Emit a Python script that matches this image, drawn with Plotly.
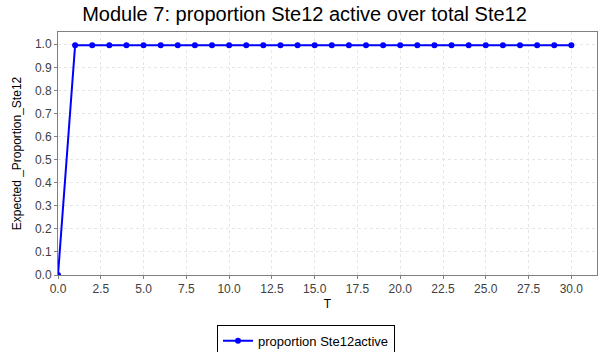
import plotly.graph_objects as go

# time points and expected proportion of active Ste12
T = list(range(0, 31))
proportion = [0.0] + [0.996] * 30
x_ticks = [0, 2.5, 5, 7.5, 10, 12.5, 15, 17.5, 20, 22.5, 25, 27.5, 30]

fig = go.Figure()
fig.add_trace(go.Scatter(
    x=T, y=proportion, mode="lines+markers", name="proportion Ste12active",
    line=dict(color="#0000ff", width=2),
    marker=dict(color="#0000ff", size=6, symbol="circle"),
))

axis_style = dict(
    showgrid=True, gridcolor="#e6e6e6", griddash="3px,3px", gridwidth=1,
    showline=True, linecolor="#808080", linewidth=1, mirror=True,
    ticks="outside", ticklen=3, tickcolor="#808080",
    zeroline=False,
    tickfont=dict(family="Liberation Sans, Arial, sans-serif", size=12, color="#404040"),
    title_font=dict(family="Liberation Sans, Arial, sans-serif", size=12, color="black"),
)

fig.update_layout(
    width=609, height=352,
    paper_bgcolor="white", plot_bgcolor="white",
    margin=dict(l=58, r=12, t=32, b=77, autoexpand=False),
    title=dict(text="Module 7: proportion Ste12 active over total Ste12",
               x=0.5, xanchor="center", y=0.96, yanchor="middle",
               font=dict(family="Liberation Sans, Arial, sans-serif", size=20, color="black")),
    showlegend=True,
    legend=dict(orientation="h", x=0.295, xanchor="left", y=-0.205, yanchor="top",
                bordercolor="black", borderwidth=1,
                font=dict(family="Liberation Sans, Arial, sans-serif", size=13, color="black"),
                tracegroupgap=0, itemwidth=30),
)
fig.update_xaxes(axis_style, range=[0, 31.5], tickvals=x_ticks,
                 ticktext=[f"{v:.1f}" for v in x_ticks],
                 title=dict(text="T", standoff=4))
fig.update_yaxes(axis_style, range=[0, 1.053], dtick=0.1, tickformat=".1f",
                 title=dict(text="Expected _Proportion_Ste12", standoff=10))

fig.write_html("out.html", config={"displayModeBar": False},
               post_script="document.body.style.margin='0px';")
